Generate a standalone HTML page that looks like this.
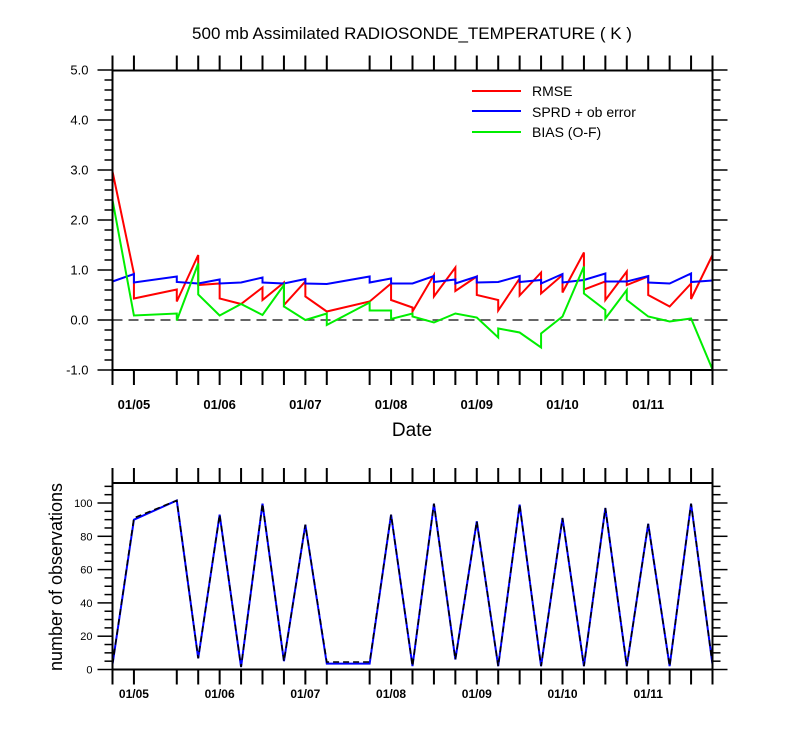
<!DOCTYPE html>
<html><head><meta charset="utf-8"><style>
body{margin:0;background:#fff;}
svg{display:block;font-family:"Liberation Sans",sans-serif;}
</style></head><body>
<svg id="chart" width="800" height="750" xmlns="http://www.w3.org/2000/svg">
<text x="412" y="39" font-size="17" text-anchor="middle">500 mb Assimilated RADIOSONDE_TEMPERATURE ( K )</text>
<text x="412" y="436" font-size="19" text-anchor="middle">Date</text>
<text transform="translate(62,577) rotate(-90)" font-size="18" text-anchor="middle">number of observations</text>
<g id="topG"></g>
<g id="botG"></g>
<g>
<line x1="472" y1="91" x2="521" y2="91" stroke="#f00" stroke-width="2"/>
<text x="532" y="96" font-size="14">RMSE</text>
<line x1="472" y1="111" x2="521" y2="111" stroke="#00f" stroke-width="2"/>
<text x="532" y="117" font-size="14">SPRD + ob error</text>
<line x1="472" y1="132" x2="521" y2="132" stroke="#0e0" stroke-width="2"/>
<text x="532" y="137" font-size="14">BIAS (O-F)</text>
</g>
</svg>
<script>
// time index in 6-hour steps from 01/04 18Z
const tickTimes=[0,1,3,4,5,6,7,8,9,10,12,13,14,15,16,17,18,19,20,21,22,23,24,25,26,27,28];
const dateLabels=["01/05","01/06","01/07","01/08","01/09","01/10","01/11"];
const dateTimes=[1,5,9,13,17,21,25];
const topTicks=[-1,0,1,2,3,4,5];
const botTicks=[0,20,40,60,80,100];
const rmse=[[0,2.57],[0,2.97],[1,0.93],[1,0.43],[3,0.61],[3,0.37],[4,1.30],[4,0.70],[5,0.73],[5,0.43],[6,0.32],[7,0.65],[7,0.40],[8,0.75],[8,0.30],[9,0.77],[9,0.47],[10,0.17],[12,0.37],[13,0.73],[13,0.40],[14,0.25],[14,0.17],[15,0.90],[15,0.47],[16,1.05],[16,0.58],[17,0.87],[17,0.50],[18,0.40],[18,0.19],[19,0.83],[19,0.49],[20,0.95],[20,0.53],[21,0.90],[21,0.55],[22,1.35],[22,0.61],[23,0.77],[23,0.40],[24,0.97],[24,0.70],[25,0.87],[25,0.50],[26,0.27],[27,0.73],[27,0.42],[28,1.30],[28,0.47]];
const sprd=[[0,0.77],[1,0.92],[1,0.75],[3,0.87],[3,0.76],[4,0.73],[5,0.81],[5,0.73],[6,0.75],[7,0.85],[7,0.75],[8,0.73],[9,0.82],[9,0.73],[10,0.72],[12,0.87],[12,0.75],[13,0.83],[13,0.73],[14,0.73],[15,0.88],[15,0.76],[16,0.81],[16,0.73],[17,0.87],[17,0.75],[18,0.76],[19,0.88],[19,0.76],[20,0.80],[20,0.73],[21,0.92],[21,0.75],[22,0.80],[23,0.93],[23,0.77],[24,0.77],[25,0.88],[25,0.75],[26,0.73],[27,0.93],[27,0.76],[28,0.79]];
const bias=[[0,2.4],[1,0.09],[3,0.13],[3,-0.01],[4,1.13],[4,0.51],[5,0.09],[6,0.32],[7,0.10],[8,0.70],[8,0.27],[9,0.0],[10,0.13],[10,-0.10],[12,0.35],[12,0.19],[13,0.19],[13,0.02],[14,0.13],[14,0.07],[15,-0.05],[16,0.13],[17,0.05],[18,-0.35],[18,-0.17],[19,-0.25],[20,-0.55],[20,-0.27],[21,0.07],[22,1.07],[22,0.53],[23,0.20],[23,0.03],[24,0.60],[24,0.40],[25,0.07],[26,-0.03],[27,0.03],[28,-0.99],[28,-0.40]];
const obsUsed=[[0,3],[1,90],[3,101.5],[4,6.7],[5,93],[6,1.5],[7,99.6],[8,5],[9,87],[10,3.5],[12,3.5],[13,93],[14,2],[15,99.6],[16,6],[17,89],[18,2],[19,99],[20,2],[21,91],[22,2],[23,97],[24,2],[25,87.5],[26,2],[27,99.6],[28,3]];
const obsTotal=[[0,3],[1,91],[3,101.5],[4,6.7],[5,93],[6,1.5],[7,99.6],[8,5],[9,87],[10,4.5],[12,4.5],[13,93],[14,2],[15,99.6],[16,6],[17,89],[18,2],[19,99],[20,2],[21,91],[22,2],[23,97],[24,2],[25,87.5],[26,2],[27,99.6],[28,3]];

const NS="http://www.w3.org/2000/svg";
const X0=112.5,X1=712.5;
const xs=i=>X0+i*(X1-X0)/28;
const yTop=v=>320-50*v;
const yBot=v=>669.5-1.665*v;
function mk(tag,attrs,parent){const e=document.createElementNS(NS,tag);for(const k in attrs)e.setAttribute(k,attrs[k]);parent.appendChild(e);return e;}
const topG=document.getElementById('topG'),botG=document.getElementById('botG');

function panel(g,y0,y1,yf,ticks,minorStep,lo,hi,fmt,fs,labFs,labY,labOff){
  for(let v=lo;v<=hi+1e-9;v+=minorStep){
    const major=ticks.some(t=>Math.abs(t-v)<1e-6);const L=major?15:8;const y=yf(v);
    const t1=mk('line',{x1:X0-L,y1:y,x2:X0,y2:y,stroke:'#000','stroke-width':1.5},g);
    
    
    const t2=mk('line',{x1:X1,y1:y,x2:X1+L,y2:y,stroke:'#000','stroke-width':1.5},g);
    
    
  }
  ticks.forEach(v=>{const t=mk('text',{x:X0-labOff,y:yf(v)+fs*0.36,'font-size':fs,'text-anchor':'end'},g);t.textContent=fmt(v);
    
    });
  tickTimes.forEach(i=>{const x=xs(i);
    const a=mk('line',{x1:x,y1:y1,x2:x,y2:y1+15,stroke:'#000','stroke-width':2},g);
    
    
    const b=mk('line',{x1:x,y1:y0-15,x2:x,y2:y0,stroke:'#000','stroke-width':2},g);
    
    });
  dateTimes.forEach((i,k)=>{const t=mk('text',{x:xs(i),y:labY,'font-size':labFs,'font-weight':'bold','text-anchor':'middle'},g);t.textContent=dateLabels[k];
    
    });
}
function line(g,data,yf,color,w,dash,name){
  const p=mk('polyline',{points:data.map(d=>xs(d[0])+','+yf(d[1])).join(' '),fill:'none',stroke:color,'stroke-width':w,'stroke-linejoin':'miter'},g);
  if(dash)p.setAttribute('stroke-dasharray',dash);
  
  
}
panel(topG,70.5,370,yTop,topTicks,0.2,-1,5,v=>v.toFixed(1),13,13,409,24);
const zl=mk('line',{x1:X0,y1:yTop(0),x2:X1,y2:yTop(0),stroke:'#333','stroke-width':1.5,'stroke-dasharray':'10,6'},topG);


line(topG,rmse,yTop,'#f00',2,null,'rmse-line');
line(topG,sprd,yTop,'#00f',2,null,'sprd-line');
line(topG,bias,yTop,'#0e0',2,null,'bias-line');
const f1=mk('rect',{x:X0,y:70.5,width:X1-X0,height:299.5,fill:'none',stroke:'#000','stroke-width':2},topG);


panel(botG,483,669.5,yBot,botTicks,5,0,110,v=>String(v),11,12,698,20);
line(botG,obsUsed,yBot,'#00f',2,null,'obs-used-line');
line(botG,obsTotal,yBot,'#000',1.6,'6,4','obs-total-line');
const f2=mk('rect',{x:X0,y:483,width:X1-X0,height:186.5,fill:'none',stroke:'#000','stroke-width':2},botG);


</script>
</body></html>
